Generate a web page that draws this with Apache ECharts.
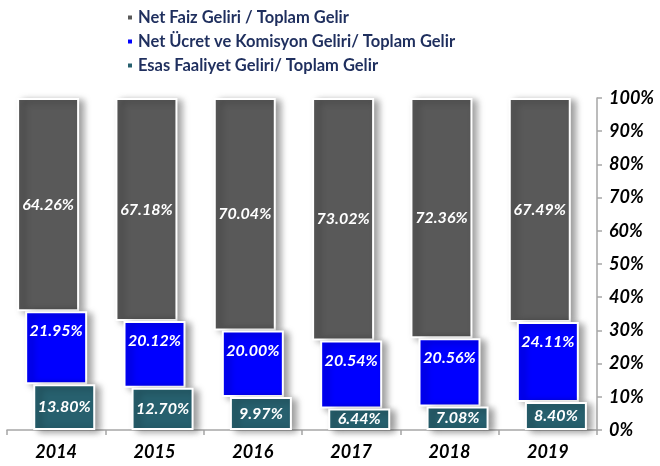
<!DOCTYPE html>
<html>
<head>
<meta charset="utf-8">
<script src="https://cdn.jsdelivr.net/npm/echarts@6/dist/echarts.min.js"></script>
<style>
  html, body { margin: 0; padding: 0; background: #fff; }
  #main { width: 660px; height: 466px; }
</style>
</head>
<body>
<div id="main"></div>
<script>
var years = ["2014", "2015", "2016", "2017", "2018", "2019"];
var netFaiz = [64.26, 67.18, 70.04, 73.02, 72.36, 67.49];
var netUcret = [21.95, 20.12, 20.0, 20.54, 20.56, 24.11];
var esasFaaliyet = [13.8, 12.7, 9.97, 6.44, 7.08, 8.4];

var names = [
  "Net Faiz Geliri / Toplam Gelir",
  "Net Ücret ve Komisyon Geliri/ Toplam Gelir",
  "Esas Faaliyet Geliri/ Toplam Gelir"
];
var colors = ["#595959", "#0000FF", "#27606E"];

// bases so each segment sits on the ones below it
var ucretBase = esasFaaliyet.slice();
var faizBase = esasFaaliyet.map(function (v, i) { return v + netUcret[i]; });

var font = "Lato";

function pct(p) { return p.value.toFixed(2) + "%"; }

function barStyle(c) {
  return {
    color: c,
    borderColor: "#fff",
    borderWidth: 2,
    shadowColor: "rgba(0,0,0,0.4)",
    shadowBlur: 7,
    shadowOffsetX: 5,
    shadowOffsetY: 2
  };
}

var labelStyle = {
  show: true,
  color: "#fff",
  fontFamily: font,
  fontStyle: "italic",
  fontWeight: "bold",
  fontSize: 16,
  formatter: pct
};

var hidden = { color: "transparent" };

var chart = echarts.init(document.getElementById("main"));
chart.setOption({
  animation: false,
  legend: {
    orient: "vertical",
    left: 121,
    top: 4,
    itemGap: 7,
    itemWidth: 6,
    itemHeight: 6,
    icon: "rect",
    data: names,
    textStyle: { color: "#1F2F5E", fontFamily: font, fontWeight: "bold", fontSize: 16.5 }
  },
  grid: { left: 7, right: 63, top: 98, bottom: 36 },
  xAxis: {
    type: "category",
    data: years,
    axisLine: { lineStyle: { color: "#A6A6A6", width: 1.5 } },
    axisTick: { show: true, length: 5, lineStyle: { color: "#A6A6A6", width: 1.5 } },
    axisLabel: {
      margin: 13,
      color: "#000",
      fontFamily: font,
      fontStyle: "italic",
      fontWeight: "bold",
      fontSize: 18
    }
  },
  yAxis: {
    type: "value",
    position: "right",
    min: 0,
    max: 100,
    interval: 10,
    splitLine: { show: false },
    axisLine: { show: true, lineStyle: { color: "#A6A6A6", width: 1.5 } },
    axisTick: { show: true, length: 5, lineStyle: { color: "#A6A6A6", width: 1.5 } },
    axisLabel: {
      margin: 12,
      formatter: "{value}%",
      color: "#000",
      fontFamily: font,
      fontStyle: "italic",
      fontWeight: "bold",
      fontSize: 18
    }
  },
  series: [
    { type: "bar", stack: "faiz", data: faizBase, barWidth: 62, itemStyle: hidden, silent: true },
    { name: names[0], type: "bar", stack: "faiz", data: netFaiz, barWidth: 62,
      itemStyle: barStyle(colors[0]), label: Object.assign({ position: "inside" }, labelStyle) },
    { type: "bar", stack: "ucret", data: ucretBase, barWidth: 62, itemStyle: hidden, silent: true },
    { name: names[1], type: "bar", stack: "ucret", data: netUcret, barWidth: 62,
      itemStyle: barStyle(colors[1]), label: Object.assign({ position: "insideTop", distance: 12 }, labelStyle) },
    { name: names[2], type: "bar", stack: "esas", data: esasFaaliyet, barWidth: 62, barGap: "-87%",
      itemStyle: barStyle(colors[2]), label: Object.assign({ position: "inside" }, labelStyle) }
  ]
});
</script>
</body>
</html>
